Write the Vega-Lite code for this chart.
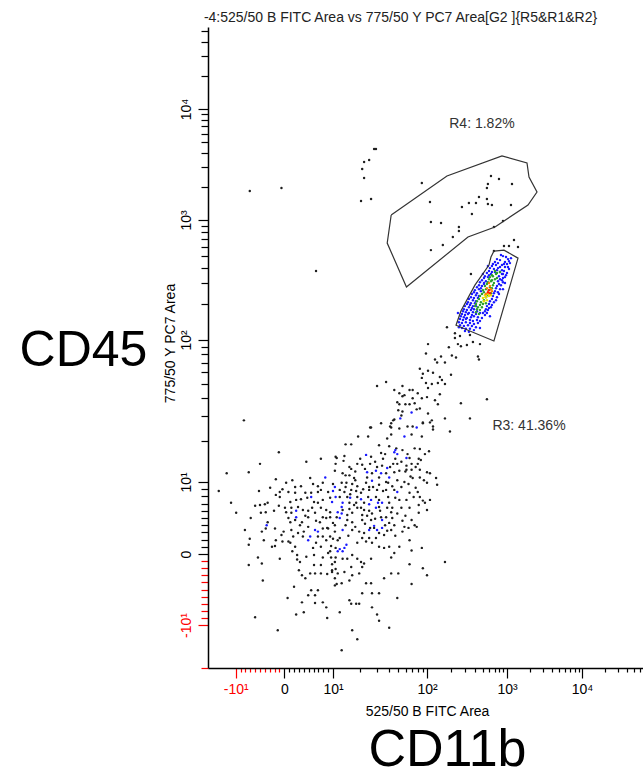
{
"$schema": "https://vega.github.io/schema/vega-lite/v6.json",
"width": 435, "height": 641,
"autosize": {"type": "none"},
"padding": {"left": 208, "top": 27, "right": 0, "bottom": 103},
"background": "white",
"title": {"text": "-4:525/50 B FITC Area vs 775/50 Y PC7 Area[G2 ]{R5&R1&R2}", "fontSize": 14, "fontWeight": "normal", "color": "#222", "anchor": "middle", "dx": -25, "offset": 2},
"config": {"font": "Liberation Sans", "view": {"stroke": null}, "axis": {"grid": false, "domainColor": "#000", "domainWidth": 1.5, "tickWidth": 1.2, "labelFontSize": 14, "titleFontWeight": "normal", "titleColor": "#000", "labelOverlap": false, "labelFlush": false, "labelBound": false}},
"datasets": {
"pts": [
{"x":-1.1,"y":16.5,"c":"k"},{"x":-5.0,"y":13.6,"c":"k"},{"x":4.5,"y":14.1,"c":"k"},{"x":7.5,"y":14.8,"c":"k"},{"x":10.7,"y":15.3,"c":"k"},{"x":-11.6,"y":11.6,"c":"k"},{"x":-7.3,"y":11.8,"c":"k"},{"x":-13.2,"y":8.75,"c":"k"},{"x":-5.2,"y":8.75,"c":"k"},{"x":-1.7,"y":10.5,"c":"k"},{"x":0.3,"y":9.9,"c":"k"},{"x":2.2,"y":9.3,"c":"k"},{"x":3.4,"y":9.4,"c":"k"},{"x":5.9,"y":9.7,"c":"k"},{"x":7.9,"y":9.9,"c":"k"},{"x":10.0,"y":9.7,"c":"k"},{"x":10.5,"y":12.1,"c":"k"},{"x":10.7,"y":13.6,"c":"k"},{"x":-0.3,"y":9.0,"c":"k"},{"x":0.8,"y":8.6,"c":"k"},{"x":2.2,"y":8.5,"c":"k"},{"x":4.3,"y":8.5,"c":"k"},{"x":5.5,"y":8.5,"c":"k"},{"x":6.9,"y":8.6,"c":"k"},{"x":7.5,"y":8.9,"c":"k"},{"x":-1.7,"y":8.2,"c":"k"},{"x":-0.9,"y":7.9,"c":"k"},{"x":1.2,"y":7.2,"c":"k"},{"x":2.4,"y":7.5,"c":"k"},{"x":3.4,"y":7.6,"c":"k"},{"x":4.7,"y":7.8,"c":"k"},{"x":6.1,"y":7.2,"c":"k"},{"x":6.9,"y":7.1,"c":"k"},{"x":7.9,"y":7.5,"c":"k"},{"x":9.4,"y":7.8,"c":"k"},{"x":-10.8,"y":7.1,"c":"k"},{"x":-6.0,"y":6.7,"c":"k"},{"x":-5.0,"y":6.8,"c":"k"},{"x":-4.0,"y":6.9,"c":"k"},{"x":-3.4,"y":7.1,"c":"k"},{"x":-1.1,"y":6.7,"c":"k"},{"x":0.1,"y":6.4,"c":"k"},{"x":1.4,"y":6.4,"c":"k"},{"x":2.8,"y":6.5,"c":"k"},{"x":3.8,"y":6.1,"c":"k"},{"x":4.9,"y":6.0,"c":"k"},{"x":7.5,"y":6.4,"c":"k"},{"x":8.6,"y":6.1,"c":"k"},{"x":-9.9,"y":5.7,"c":"k"},{"x":-6.9,"y":5.0,"c":"k"},{"x":-4.8,"y":5.7,"c":"k"},{"x":-2.1,"y":6.0,"c":"k"},{"x":0.3,"y":5.8,"c":"k"},{"x":1.4,"y":5.7,"c":"k"},{"x":4.3,"y":5.3,"c":"k"},{"x":6.3,"y":5.7,"c":"k"},{"x":7.9,"y":5.1,"c":"k"},{"x":9.4,"y":5.8,"c":"k"},{"x":-3.4,"y":4.4,"c":"k"},{"x":1.2,"y":4.4,"c":"k"},{"x":2.2,"y":4.7,"c":"k"},{"x":3.6,"y":4.4,"c":"k"},{"x":4.9,"y":5.1,"c":"k"},{"x":6.5,"y":4.6,"c":"k"},{"x":8.8,"y":3.6,"c":"k"},{"x":-8.1,"y":3.3,"c":"k"},{"x":-4.6,"y":3.1,"c":"k"},{"x":-3.8,"y":3.5,"c":"k"},{"x":-1.9,"y":3.5,"c":"k"},{"x":-0.1,"y":3.1,"c":"k"},{"x":1.4,"y":3.3,"c":"k"},{"x":2.8,"y":2.9,"c":"k"},{"x":4.9,"y":3.75,"c":"k"},{"x":7.9,"y":3.5,"c":"k"},{"x":9.0,"y":3.5,"c":"k"},{"x":10.5,"y":4.0,"c":"k"},{"x":-7.1,"y":2.1,"c":"k"},{"x":-1.7,"y":1.9,"c":"k"},{"x":-0.3,"y":1.7,"c":"k"},{"x":0.8,"y":1.7,"c":"k"},{"x":1.8,"y":2.4,"c":"k"},{"x":3.8,"y":2.4,"c":"k"},{"x":6.9,"y":2.4,"c":"k"},{"x":7.9,"y":2.4,"c":"k"},{"x":8.6,"y":1.9,"c":"k"},{"x":10.0,"y":2.1,"c":"k"},{"x":-7.3,"y":1.25,"c":"k"},{"x":-1.9,"y":1.1,"c":"k"},{"x":1.2,"y":1.5,"c":"k"},{"x":2.2,"y":1.0,"c":"k"},{"x":5.9,"y":0.8,"c":"k"},{"x":7.5,"y":1.0,"c":"k"},{"x":9.6,"y":1.1,"c":"k"},{"x":10.7,"y":0.8,"c":"k"},{"x":2.6,"y":-0.1,"c":"k"},{"x":4.5,"y":-0.3,"c":"k"},{"x":6.1,"y":-0.1,"c":"k"},{"x":7.9,"y":-0.4,"c":"k"},{"x":9.0,"y":0.1,"c":"k"},{"x":9.6,"y":-0.4,"c":"k"},{"x":10.7,"y":-0.4,"c":"k"},{"x":-5.4,"y":-0.4,"c":"k"},{"x":-0.9,"y":-0.6,"c":"k"},{"x":2.6,"y":-0.7,"c":"k"},{"x":-7.3,"y":-1.5,"c":"k"},{"x":-4.6,"y":-1.3,"c":"k"},{"x":6.1,"y":-1.5,"c":"k"},{"x":3.0,"y":-2.25,"c":"k"},{"x":3.6,"y":-3.0,"c":"k"},{"x":5.3,"y":-2.7,"c":"k"},{"x":6.3,"y":-2.7,"c":"k"},{"x":7.5,"y":-2.7,"c":"k"},{"x":8.8,"y":-2.8,"c":"k"},{"x":9.8,"y":-2.5,"c":"k"},{"x":10.7,"y":-2.1,"c":"k"},{"x":-4.4,"y":-3.7,"c":"k"},{"x":4.3,"y":-3.4,"c":"k"},{"x":10.5,"y":-4.4,"c":"k"},{"x":2.0,"y":-4.6,"c":"k"},{"x":5.5,"y":-5.1,"c":"k"},{"x":6.9,"y":-5.1,"c":"k"},{"x":4.9,"y":-5.8,"c":"k"},{"x":6.3,"y":-5.8,"c":"k"},{"x":0.6,"y":-6.2,"c":"k"},{"x":3.6,"y":-6.8,"c":"k"},{"x":6.3,"y":-6.9,"c":"k"},{"x":7.9,"y":-6.8,"c":"k"},{"x":8.6,"y":-7.5,"c":"k"},{"x":2.4,"y":-8.5,"c":"k"},{"x":4.0,"y":-8.2,"c":"k"},{"x":-6.0,"y":-8.9,"c":"k"},{"x":8.8,"y":-9.0,"c":"k"},{"x":-1.3,"y":-10.6,"c":"k"},{"x":-8.3,"y":27.8,"c":"k"},
{"x":-2.9,"y":9.2,"c":"k"},{"x":-0.9,"y":8.6,"c":"k"},{"x":1.6,"y":10.3,"c":"k"},{"x":5.3,"y":10.7,"c":"k"},{"x":6.9,"y":9.4,"c":"k"},{"x":9.0,"y":8.6,"c":"k"},{"x":-3.8,"y":5.8,"c":"k"},{"x":0.8,"y":5.0,"c":"k"},{"x":3.2,"y":4.0,"c":"k"},{"x":5.7,"y":6.4,"c":"k"},{"x":7.3,"y":4.4,"c":"k"},{"x":-0.5,"y":2.6,"c":"k"},{"x":4.0,"y":3.1,"c":"k"},{"x":8.6,"y":5.0,"c":"k"},{"x":1.6,"y":0.3,"c":"k"},{"x":6.5,"y":1.5,"c":"k"},{"x":-2.5,"y":1.0,"c":"k"},{"x":3.2,"y":-1.1,"c":"k"},{"x":7.5,"y":-1.5,"c":"k"},{"x":-4.2,"y":1.9,"c":"k"},
{"x":13.1,"y":14.3,"c":"k"},{"x":15.2,"y":12.9,"c":"k"},{"x":17.6,"y":11.95,"c":"k"},{"x":19.9,"y":14.8,"c":"k"},{"x":22.4,"y":12.5,"c":"k"},{"x":26.0,"y":15.3,"c":"k"},{"x":28.7,"y":14.1,"c":"k"},{"x":34.8,"y":14.8,"c":"k"},{"x":41.3,"y":12.9,"c":"k"},{"x":46.8,"y":14.8,"c":"k"},{"x":54.2,"y":14.1,"c":"k"},{"x":59.7,"y":11.95,"c":"k"},{"x":67.5,"y":11.0,"c":"k"},{"x":76.3,"y":12.9,"c":"k"},{"x":86.3,"y":14.5,"c":"k"},{"x":92.9,"y":10.3,"c":"k"},{"x":13.8,"y":9.3,"c":"k"},{"x":15.5,"y":8.3,"c":"k"},{"x":17.6,"y":10.3,"c":"k"},{"x":21.4,"y":9.0,"c":"k"},{"x":27.3,"y":9.3,"c":"k"},{"x":34.8,"y":8.75,"c":"k"},{"x":39.4,"y":9.9,"c":"k"},{"x":45.7,"y":8.9,"c":"k"},{"x":54.2,"y":9.3,"c":"k"},{"x":64.3,"y":9.7,"c":"k"},{"x":72.7,"y":7.9,"c":"k"},{"x":82.1,"y":5.7,"c":"k"},{"x":95.2,"y":7.1,"c":"k"},{"x":12.8,"y":6.1,"c":"k"},{"x":14.4,"y":5.4,"c":"k"},{"x":17.1,"y":6.8,"c":"k"},{"x":20.3,"y":6.4,"c":"k"},{"x":23.6,"y":5.3,"c":"k"},{"x":28.7,"y":4.9,"c":"k"},{"x":32.4,"y":6.0,"c":"k"},{"x":36.6,"y":4.0,"c":"k"},{"x":43.5,"y":6.4,"c":"k"},{"x":49.1,"y":5.6,"c":"k"},{"x":59.7,"y":5.3,"c":"k"},{"x":69.2,"y":4.7,"c":"k"},{"x":13.8,"y":4.0,"c":"k"},{"x":17.6,"y":3.75,"c":"k"},{"x":22.4,"y":4.2,"c":"k"},{"x":25.4,"y":3.6,"c":"k"},{"x":38.5,"y":3.2,"c":"k"},{"x":46.8,"y":2.5,"c":"k"},{"x":55.6,"y":3.1,"c":"k"},{"x":65.9,"y":1.9,"c":"k"},{"x":18.5,"y":1.5,"c":"k"},{"x":14.8,"y":2.5,"c":"k"},{"x":10.5,"y":3.1,"c":"k"},{"x":11.3,"y":1.9,"c":"k"},
{"x":26.0,"y":24.8,"c":"k"},{"x":33.2,"y":26.5,"c":"k"},{"x":42.4,"y":24.8,"c":"k"},{"x":51.6,"y":24.4,"c":"k"},{"x":62.8,"y":25.2,"c":"k"},{"x":71.0,"y":25.2,"c":"k"},{"x":90.6,"y":26.5,"c":"k"},{"x":109,"y":26.9,"c":"k"},{"x":119,"y":25.2,"c":"k"},{"x":194,"y":23.2,"c":"k"},{"x":69.2,"y":22.1,"c":"k"},{"x":88.4,"y":21.4,"c":"k"},{"x":42.4,"y":22.1,"c":"k"},{"x":38.5,"y":20.7,"c":"k"},{"x":18.9,"y":21.4,"c":"k"},{"x":24.2,"y":21.4,"c":"k"},{"x":13.8,"y":18.8,"c":"k"},{"x":15.9,"y":18.8,"c":"k"},{"x":31.6,"y":18.5,"c":"k"},{"x":40.4,"y":18.2,"c":"k"},{"x":47.9,"y":17.6,"c":"k"},{"x":55.6,"y":17.1,"c":"k"},{"x":62.8,"y":16.0,"c":"k"},{"x":74.5,"y":17.6,"c":"k"},{"x":84.3,"y":17.4,"c":"k"},{"x":95.2,"y":16.0,"c":"k"},{"x":106,"y":16.8,"c":"k"},{"x":33.2,"y":16.3,"c":"k"},{"x":36.6,"y":16.0,"c":"k"},{"x":13.4,"y":15.5,"c":"k"},{"x":11.0,"y":15.0,"c":"k"},{"x":65.9,"y":15.0,"c":"k"},{"x":82.1,"y":14.8,"c":"k"},{"x":18.5,"y":13.6,"c":"k"},{"x":20.9,"y":13.4,"c":"k"},{"x":25.4,"y":13.6,"c":"k"},{"x":30.1,"y":12.9,"c":"k"},{"x":34.0,"y":13.2,"c":"k"},{"x":44.5,"y":13.6,"c":"k"},{"x":49.1,"y":13.6,"c":"k"},{"x":61.2,"y":13.2,"c":"k"},{"x":69.2,"y":13.6,"c":"k"},{"x":80.2,"y":13.6,"c":"k"},{"x":15.9,"y":12.5,"c":"k"},{"x":26.6,"y":11.6,"c":"k"},{"x":37.5,"y":11.6,"c":"k"},{"x":45.7,"y":11.8,"c":"k"},{"x":51.6,"y":12.1,"c":"k"},{"x":61.2,"y":12.3,"c":"k"},{"x":69.2,"y":12.3,"c":"k"},{"x":84.3,"y":12.3,"c":"k"},{"x":100,"y":11.8,"c":"k"},{"x":109,"y":11.6,"c":"k"},{"x":13.8,"y":11.2,"c":"k"},{"x":15.2,"y":11.2,"c":"k"},{"x":12.8,"y":11.6,"c":"k"},{"x":17.1,"y":10.7,"c":"k"},{"x":23.6,"y":10.8,"c":"k"},{"x":31.6,"y":10.8,"c":"k"},{"x":37.5,"y":10.0,"c":"k"},{"x":49.1,"y":10.3,"c":"k"},{"x":58.3,"y":10.0,"c":"k"},{"x":71.0,"y":10.7,"c":"k"},{"x":84.3,"y":10.8,"c":"k"},{"x":130,"y":10.7,"c":"k"},{"x":100,"y":9.9,"c":"k"},{"x":134,"y":9.6,"c":"k"},{"x":12.5,"y":9.9,"c":"k"},{"x":14.1,"y":9.9,"c":"k"},{"x":16.3,"y":9.7,"c":"k"},{"x":18.5,"y":9.4,"c":"k"},{"x":23.0,"y":9.9,"c":"k"},{"x":24.8,"y":9.3,"c":"k"},{"x":31.6,"y":9.6,"c":"k"},{"x":43.5,"y":9.4,"c":"k"},{"x":30.1,"y":8.9,"c":"k"},{"x":11.9,"y":8.9,"c":"k"},{"x":13.4,"y":8.6,"c":"k"},{"x":15.9,"y":8.9,"c":"k"},{"x":18.0,"y":8.75,"c":"k"},{"x":20.3,"y":8.5,"c":"k"},{"x":24.8,"y":8.9,"c":"k"},{"x":37.5,"y":8.9,"c":"k"},{"x":65.9,"y":8.5,"c":"k"},{"x":76.3,"y":9.2,"c":"k"},{"x":80.2,"y":8.6,"c":"k"},{"x":11.9,"y":7.9,"c":"k"},{"x":14.4,"y":7.9,"c":"k"},{"x":18.5,"y":7.9,"c":"k"},{"x":24.2,"y":7.9,"c":"k"},{"x":29.3,"y":7.9,"c":"k"},{"x":31.6,"y":7.5,"c":"k"},{"x":39.4,"y":7.9,"c":"k"},{"x":46.8,"y":7.8,"c":"k"},{"x":51.6,"y":7.5,"c":"k"},{"x":61.2,"y":7.5,"c":"k"},{"x":84.3,"y":7.9,"c":"k"},{"x":90.6,"y":7.4,"c":"k"},{"x":109,"y":7.5,"c":"k"},{"x":15.2,"y":7.1,"c":"k"},{"x":18.0,"y":7.1,"c":"k"},{"x":21.9,"y":7.1,"c":"k"},{"x":40.4,"y":7.1,"c":"k"},{"x":54.2,"y":6.4,"c":"k"},{"x":65.9,"y":6.4,"c":"k"},{"x":82.1,"y":6.8,"c":"k"},{"x":100,"y":6.1,"c":"k"},{"x":15.2,"y":6.25,"c":"k"},{"x":18.5,"y":6.4,"c":"k"},{"x":21.9,"y":6.1,"c":"k"},{"x":24.8,"y":6.0,"c":"k"},{"x":31.6,"y":6.5,"c":"k"},{"x":38.5,"y":6.4,"c":"k"},{"x":42.4,"y":5.8,"c":"k"},{"x":16.3,"y":5.7,"c":"k"},{"x":20.9,"y":5.4,"c":"k"},{"x":26.6,"y":5.6,"c":"k"},{"x":33.2,"y":5.1,"c":"k"},{"x":37.5,"y":5.1,"c":"k"},{"x":43.5,"y":5.0,"c":"k"},{"x":55.6,"y":4.6,"c":"k"},{"x":9.4,"y":5.1,"c":"k"},{"x":11.0,"y":5.1,"c":"k"},{"x":10.0,"y":4.3,"c":"k"},{"x":14.4,"y":4.7,"c":"k"},{"x":16.3,"y":4.4,"c":"k"},{"x":20.9,"y":4.7,"c":"k"},{"x":26.0,"y":4.7,"c":"k"},{"x":40.4,"y":4.3,"c":"k"},{"x":45.7,"y":4.0,"c":"k"},{"x":58.3,"y":3.75,"c":"k"},{"x":64.3,"y":3.6,"c":"k"},{"x":74.5,"y":4.0,"c":"k"},{"x":78.2,"y":3.75,"c":"k"},{"x":16.3,"y":3.3,"c":"k"},{"x":19.4,"y":3.1,"c":"k"},{"x":21.9,"y":2.9,"c":"k"},{"x":28.0,"y":3.6,"c":"k"},{"x":31.6,"y":2.9,"c":"k"},{"x":35.7,"y":2.6,"c":"k"},{"x":42.4,"y":3.3,"c":"k"},{"x":9.4,"y":2.4,"c":"k"},{"x":11.9,"y":2.2,"c":"k"},{"x":20.9,"y":2.2,"c":"k"},{"x":24.8,"y":2.2,"c":"k"},{"x":29.3,"y":2.2,"c":"k"},{"x":23.0,"y":1.7,"c":"k"},{"x":26.6,"y":1.5,"c":"k"},{"x":31.6,"y":1.0,"c":"k"},{"x":35.7,"y":0.8,"c":"k"},{"x":40.4,"y":1.0,"c":"k"},{"x":51.6,"y":1.0,"c":"k"},{"x":9.4,"y":0.3,"c":"k"},{"x":16.3,"y":-0.1,"c":"k"},{"x":18.5,"y":-0.6,"c":"k"},{"x":20.3,"y":-1.1,"c":"k"},{"x":21.9,"y":-1.3,"c":"k"},{"x":26.0,"y":-0.6,"c":"k"},{"x":42.4,"y":-0.4,"c":"k"},{"x":45.7,"y":0.1,"c":"k"},{"x":69.2,"y":0.4,"c":"k"},{"x":88.4,"y":0.8,"c":"k"},{"x":14.4,"y":-0.6,"c":"k"},{"x":12.8,"y":-0.6,"c":"k"},{"x":10.5,"y":-1.1,"c":"k"},{"x":9.8,"y":-1.4,"c":"k"},{"x":15.9,"y":-1.8,"c":"k"},{"x":20.9,"y":-1.8,"c":"k"},{"x":65.9,"y":-1.4,"c":"k"},{"x":90.6,"y":-2.0,"c":"k"},{"x":168,"y":-1.1,"c":"k"},{"x":9.8,"y":-2.25,"c":"k"},{"x":11.3,"y":-2.7,"c":"k"},{"x":13.4,"y":-2.5,"c":"k"},{"x":16.3,"y":-3.0,"c":"k"},{"x":19.4,"y":-2.7,"c":"k"},{"x":42.4,"y":-2.7,"c":"k"},{"x":50.3,"y":-2.7,"c":"k"},{"x":100,"y":-3.0,"c":"k"},{"x":10.5,"y":-3.4,"c":"k"},{"x":12.5,"y":-4.1,"c":"k"},{"x":11.0,"y":-4.2,"c":"k"},{"x":15.2,"y":-3.7,"c":"k"},{"x":23.0,"y":-4.1,"c":"k"},{"x":26.0,"y":-4.1,"c":"k"},{"x":35.7,"y":-3.4,"c":"k"},{"x":69.2,"y":-4.2,"c":"k"},{"x":20.9,"y":-5.5,"c":"k"},{"x":26.6,"y":-5.5,"c":"k"},{"x":31.6,"y":-5.5,"c":"k"},{"x":49.1,"y":-6.2,"c":"k"},{"x":15.2,"y":-6.5,"c":"k"},{"x":15.9,"y":-7.0,"c":"k"},{"x":18.0,"y":-7.0,"c":"k"},{"x":19.4,"y":-7.0,"c":"k"},{"x":11.9,"y":-8.2,"c":"k"},{"x":26.6,"y":-7.5,"c":"k"},{"x":30.1,"y":-8.5,"c":"k"},{"x":31.6,"y":-9.4,"c":"k"},{"x":40.4,"y":-10.3,"c":"k"},{"x":16.3,"y":-10.6,"c":"k"},{"x":18.5,"y":-11.7,"c":"k"},{"x":12.5,"y":-13.2,"c":"k"},
{"x":178,"y":128,"c":"k"},{"x":224,"y":114,"c":"k"},{"x":259,"y":108,"c":"k"},{"x":224,"y":104,"c":"k"},{"x":244,"y":93.7,"c":"k"},{"x":266,"y":90.7,"c":"k"},{"x":316,"y":92.3,"c":"k"},{"x":376,"y":96.8,"c":"k"},{"x":460,"y":93.7,"c":"k"},{"x":345,"y":110,"c":"k"},{"x":103,"y":93.7,"c":"k"},{"x":188,"y":89.3,"c":"k"},{"x":97.6,"y":80.9,"c":"k"},{"x":150,"y":77.1,"c":"k"},{"x":126,"y":73.5,"c":"k"},{"x":134,"y":70.0,"c":"k"},{"x":205,"y":78.4,"c":"k"},{"x":231,"y":75.9,"c":"k"},{"x":168,"y":70.0,"c":"k"},{"x":434,"y":77.1,"c":"k"},{"x":447,"y":73.5,"c":"k"},{"x":84.3,"y":63.5,"c":"k"},{"x":90.6,"y":58.6,"c":"k"},{"x":103,"y":61.5,"c":"k"},{"x":119,"y":59.6,"c":"k"},{"x":88.4,"y":54.9,"c":"k"},{"x":145,"y":55.7,"c":"k"},{"x":200,"y":57.7,"c":"k"},{"x":97.6,"y":50.6,"c":"k"},{"x":115,"y":49.8,"c":"k"},{"x":137,"y":50.6,"c":"k"},{"x":154,"y":53.1,"c":"k"},{"x":168,"y":49.8,"c":"k"},{"x":37.5,"y":51.4,"c":"k"},{"x":30.1,"y":48.2,"c":"k"},{"x":55.6,"y":48.2,"c":"k"},{"x":45.7,"y":45.2,"c":"k"},{"x":51.6,"y":43.0,"c":"k"},{"x":65.9,"y":45.2,"c":"k"},{"x":71.0,"y":45.2,"c":"k"},{"x":80.2,"y":43.0,"c":"k"},{"x":103,"y":46.7,"c":"k"},{"x":145,"y":42.3,"c":"k"},{"x":55.6,"y":41.0,"c":"k"},{"x":71.0,"y":39.7,"c":"k"},{"x":88.4,"y":39.7,"c":"k"},{"x":100,"y":40.4,"c":"k"},{"x":126,"y":38.4,"c":"k"},{"x":562,"y":39.1,"c":"k"},{"x":266,"y":36.6,"c":"k"},{"x":65.9,"y":36.0,"c":"k"},{"x":51.6,"y":36.0,"c":"k"},{"x":59.7,"y":36.0,"c":"k"},{"x":74.5,"y":36.6,"c":"k"},{"x":137,"y":36.0,"c":"k"},{"x":78.2,"y":33.2,"c":"k"},{"x":84.3,"y":33.7,"c":"k"},{"x":50.3,"y":32.7,"c":"k"},{"x":55.6,"y":32.1,"c":"k"},{"x":103,"y":31.1,"c":"k"},{"x":168,"y":28.7,"c":"k"},{"x":345,"y":28.7,"c":"k"},{"x":45.7,"y":28.2,"c":"k"},{"x":42.4,"y":26.5,"c":"k"},{"x":90.6,"y":26.9,"c":"k"},{"x":115,"y":27.8,"c":"k"},{"x":119,"y":24.0,"c":"k"},{"x":58.3,"y":41.7,"c":"k"},{"x":49.1,"y":37.2,"c":"k"},{"x":54.2,"y":30.1,"c":"k"},{"x":44.5,"y":27.8,"c":"k"},{"x":25.4,"y":24.8,"c":"k"},{"x":41.3,"y":25.2,"c":"k"},
{"x":28.0,"y":4362,"c":"k"},{"x":29.3,"y":4362,"c":"k"},{"x":21.9,"y":3331,"c":"k"},{"x":24.8,"y":3467,"c":"k"},{"x":20.9,"y":2877,"c":"k"},{"x":21.9,"y":2390,"c":"k"},{"x":20.3,"y":1483,"c":"k"},{"x":26.0,"y":1546,"c":"k"},{"x":-7.1,"y":1824,"c":"k"},{"x":-0.5,"y":1941,"c":"k"},{"x":6.5,"y":376,"c":"k"},
{"x":88.4,"y":2154,"c":"k"},{"x":109,"y":1452,"c":"k"},{"x":112,"y":962,"c":"k"},{"x":150,"y":944,"c":"k"},{"x":112,"y":562,"c":"k"},{"x":158,"y":619,"c":"k"},{"x":211,"y":722,"c":"k"},{"x":251,"y":874,"c":"k"},{"x":251,"y":810,"c":"k"},{"x":274,"y":1310,"c":"k"},{"x":335,"y":1422,"c":"k"},{"x":365,"y":1132,"c":"k"},{"x":410,"y":1422,"c":"k"},{"x":447,"y":1611,"c":"k"},{"x":562,"y":1546,"c":"k"},{"x":578,"y":1393,"c":"k"},{"x":649,"y":1365,"c":"k"},{"x":1130,"y":1365,"c":"k"},{"x":562,"y":1941,"c":"k"},{"x":578,"y":2110,"c":"k"},{"x":631,"y":2490,"c":"k"},{"x":794,"y":2340,"c":"k"},{"x":1166,"y":2110,"c":"k"},{"x":687,"y":874,"c":"k"},{"x":891,"y":981,"c":"k"},{"x":1240,"y":681,"c":"k"},{"x":917,"y":607,"c":"k"},{"x":1063,"y":607,"c":"k"},{"x":1402,"y":596,"c":"k"},{"x":687,"y":552,"c":"k"},{"x":355,"y":355,"c":"k"},
{"x":8.4,"y":10.8,"c":"b"},{"x":10.0,"y":8.75,"c":"b"},{"x":5.5,"y":7.9,"c":"b"},{"x":10.7,"y":7.9,"c":"b"},{"x":9.8,"y":7.2,"c":"b"},{"x":2.4,"y":6.0,"c":"b"},{"x":-3.6,"y":4.0,"c":"b"},{"x":2.4,"y":5.1,"c":"b"},{"x":6.3,"y":3.3,"c":"b"},{"x":6.9,"y":3.1,"c":"b"},{"x":4.9,"y":1.9,"c":"b"},{"x":5.3,"y":2.4,"c":"b"},
{"x":78.2,"y":24.8,"c":"b"},{"x":58.3,"y":21.4,"c":"b"},{"x":45.7,"y":16.5,"c":"b"},{"x":49.1,"y":16.0,"c":"b"},{"x":23.0,"y":15.8,"c":"b"},{"x":61.2,"y":15.0,"c":"b"},{"x":38.5,"y":12.7,"c":"b"},{"x":23.6,"y":11.8,"c":"b"},{"x":29.3,"y":12.1,"c":"b"},{"x":33.2,"y":11.6,"c":"b"},{"x":26.6,"y":10.2,"c":"b"},{"x":40.4,"y":10.8,"c":"b"},{"x":10.5,"y":9.3,"c":"b"},{"x":49.1,"y":8.6,"c":"b"},{"x":15.5,"y":7.8,"c":"b"},{"x":20.3,"y":7.6,"c":"b"},{"x":26.0,"y":7.5,"c":"b"},{"x":12.8,"y":7.1,"c":"b"},{"x":24.8,"y":6.9,"c":"b"},{"x":30.8,"y":7.1,"c":"b"},{"x":34.0,"y":7.1,"c":"b"},{"x":12.5,"y":6.5,"c":"b"},{"x":29.3,"y":6.4,"c":"b"},{"x":11.3,"y":5.8,"c":"b"},{"x":12.5,"y":5.6,"c":"b"},{"x":34.0,"y":4.7,"c":"b"},{"x":11.9,"y":5.0,"c":"b"},{"x":28.0,"y":3.9,"c":"b"},{"x":30.1,"y":3.3,"c":"b"},{"x":34.0,"y":3.6,"c":"b"},{"x":12.8,"y":3.3,"c":"b"},{"x":24.8,"y":3.3,"c":"b"},{"x":11.9,"y":0.6,"c":"b"},{"x":12.8,"y":0.3,"c":"b"},{"x":14.1,"y":1.25,"c":"b"},{"x":13.4,"y":0.8,"c":"b"},{"x":11.3,"y":0.3,"c":"b"},{"x":69.2,"y":31.6,"c":"b"},{"x":52.8,"y":28.7,"c":"b"},{"x":46.8,"y":17.1,"c":"b"},
{"x":841,"y":511,"c":"b"},{"x":972,"y":492,"c":"b"},{"x":750,"y":473,"c":"b"},{"x":891,"y":501,"c":"b"},{"x":1031,"y":473,"c":"b"},{"x":708,"y":447,"c":"b"},{"x":818,"y":464,"c":"b"},{"x":944,"y":447,"c":"b"},{"x":1063,"y":455,"c":"b"},{"x":668,"y":430,"c":"b"},{"x":772,"y":438,"c":"b"},{"x":866,"y":422,"c":"b"},{"x":1000,"y":430,"c":"b"},{"x":1096,"y":438,"c":"b"},{"x":649,"y":414,"c":"b"},{"x":729,"y":422,"c":"b"},{"x":818,"y":406,"c":"b"},{"x":917,"y":430,"c":"b"},{"x":1031,"y":406,"c":"b"},{"x":613,"y":398,"c":"b"},{"x":687,"y":391,"c":"b"},{"x":772,"y":398,"c":"b"},{"x":866,"y":383,"c":"b"},{"x":944,"y":406,"c":"b"},{"x":1063,"y":391,"c":"b"},{"x":596,"y":376,"c":"b"},{"x":649,"y":369,"c":"b"},{"x":750,"y":383,"c":"b"},{"x":818,"y":369,"c":"b"},{"x":917,"y":376,"c":"b"},{"x":1000,"y":362,"c":"b"},{"x":562,"y":362,"c":"b"},{"x":631,"y":355,"c":"b"},{"x":708,"y":369,"c":"b"},{"x":891,"y":355,"c":"b"},{"x":972,"y":348,"c":"b"},{"x":531,"y":341,"c":"b"},{"x":596,"y":348,"c":"b"},{"x":794,"y":341,"c":"b"},{"x":866,"y":355,"c":"b"},{"x":944,"y":335,"c":"b"},{"x":516,"y":329,"c":"b"},{"x":578,"y":335,"c":"b"},{"x":818,"y":322,"c":"b"},{"x":891,"y":329,"c":"b"},{"x":487,"y":316,"c":"b"},{"x":546,"y":310,"c":"b"},{"x":772,"y":310,"c":"b"},{"x":866,"y":316,"c":"b"},{"x":460,"y":304,"c":"b"},{"x":516,"y":299,"c":"b"},{"x":794,"y":293,"c":"b"},{"x":891,"y":304,"c":"b"},{"x":447,"y":287,"c":"b"},{"x":487,"y":282,"c":"b"},{"x":750,"y":282,"c":"b"},{"x":841,"y":287,"c":"b"},{"x":422,"y":276,"c":"b"},{"x":473,"y":271,"c":"b"},{"x":516,"y":293,"c":"b"},{"x":729,"y":271,"c":"b"},{"x":818,"y":266,"c":"b"},{"x":398,"y":261,"c":"b"},{"x":447,"y":266,"c":"b"},{"x":708,"y":256,"c":"b"},{"x":772,"y":251,"c":"b"},{"x":387,"y":251,"c":"b"},{"x":422,"y":246,"c":"b"},{"x":473,"y":256,"c":"b"},{"x":687,"y":246,"c":"b"},{"x":794,"y":242,"c":"b"},{"x":365,"y":242,"c":"b"},{"x":410,"y":237,"c":"b"},{"x":447,"y":233,"c":"b"},{"x":668,"y":233,"c":"b"},{"x":750,"y":228,"c":"b"},{"x":355,"y":228,"c":"b"},{"x":387,"y":224,"c":"b"},{"x":434,"y":224,"c":"b"},{"x":649,"y":220,"c":"b"},{"x":729,"y":215,"c":"b"},{"x":335,"y":220,"c":"b"},{"x":376,"y":215,"c":"b"},{"x":410,"y":211,"c":"b"},{"x":613,"y":211,"c":"b"},{"x":687,"y":207,"c":"b"},{"x":326,"y":207,"c":"b"},{"x":355,"y":203,"c":"b"},{"x":398,"y":203,"c":"b"},{"x":596,"y":200,"c":"b"},{"x":649,"y":196,"c":"b"},{"x":316,"y":200,"c":"b"},{"x":345,"y":196,"c":"b"},{"x":376,"y":192,"c":"b"},{"x":562,"y":192,"c":"b"},{"x":631,"y":188,"c":"b"},{"x":299,"y":192,"c":"b"},{"x":335,"y":188,"c":"b"},{"x":365,"y":185,"c":"b"},{"x":410,"y":192,"c":"b"},{"x":546,"y":181,"c":"b"},{"x":596,"y":185,"c":"b"},{"x":290,"y":181,"c":"b"},{"x":316,"y":178,"c":"b"},{"x":355,"y":178,"c":"b"},{"x":387,"y":181,"c":"b"},{"x":531,"y":174,"c":"b"},{"x":578,"y":178,"c":"b"},{"x":282,"y":174,"c":"b"},{"x":307,"y":171,"c":"b"},{"x":335,"y":168,"c":"b"},{"x":376,"y":171,"c":"b"},{"x":422,"y":174,"c":"b"},{"x":501,"y":168,"c":"b"},{"x":562,"y":168,"c":"b"},{"x":274,"y":165,"c":"b"},{"x":299,"y":162,"c":"b"},{"x":326,"y":165,"c":"b"},{"x":365,"y":162,"c":"b"},{"x":410,"y":165,"c":"b"},{"x":460,"y":168,"c":"b"},{"x":531,"y":162,"c":"b"},{"x":266,"y":158,"c":"b"},{"x":290,"y":155,"c":"b"},{"x":316,"y":153,"c":"b"},{"x":355,"y":155,"c":"b"},{"x":387,"y":158,"c":"b"},{"x":434,"y":155,"c":"b"},{"x":487,"y":153,"c":"b"},{"x":259,"y":150,"c":"b"},{"x":282,"y":147,"c":"b"},{"x":307,"y":150,"c":"b"},{"x":345,"y":147,"c":"b"},{"x":376,"y":144,"c":"b"},{"x":422,"y":147,"c":"b"},{"x":460,"y":144,"c":"b"},{"x":251,"y":141,"c":"b"},{"x":274,"y":139,"c":"b"},{"x":307,"y":141,"c":"b"},{"x":345,"y":139,"c":"b"},{"x":387,"y":136,"c":"b"},{"x":434,"y":139,"c":"b"},{"x":259,"y":133,"c":"b"},{"x":290,"y":131,"c":"b"},{"x":326,"y":133,"c":"b"},{"x":365,"y":131,"c":"b"},{"x":410,"y":128,"c":"b"},{"x":274,"y":126,"c":"b"},{"x":307,"y":124,"c":"b"},{"x":345,"y":124,"c":"b"},{"x":387,"y":121,"c":"b"},{"x":299,"y":119,"c":"b"},{"x":335,"y":117,"c":"b"},{"x":1130,"y":482,"c":"b"},{"x":578,"y":414,"c":"b"},{"x":501,"y":355,"c":"b"},{"x":944,"y":299,"c":"b"},{"x":891,"y":266,"c":"b"},{"x":244,"y":168,"c":"b"},{"x":460,"y":126,"c":"b"},{"x":613,"y":158,"c":"b"},{"x":251,"y":128,"c":"b"},
{"x":708,"y":376,"c":"g"},{"x":750,"y":362,"c":"g"},{"x":818,"y":369,"c":"g"},{"x":649,"y":348,"c":"g"},{"x":729,"y":355,"c":"g"},{"x":613,"y":335,"c":"g"},{"x":668,"y":341,"c":"g"},{"x":750,"y":329,"c":"g"},{"x":596,"y":322,"c":"g"},{"x":649,"y":316,"c":"g"},{"x":708,"y":322,"c":"g"},{"x":578,"y":304,"c":"g"},{"x":631,"y":310,"c":"g"},{"x":687,"y":299,"c":"g"},{"x":562,"y":293,"c":"g"},{"x":668,"y":287,"c":"g"},{"x":531,"y":282,"c":"g"},{"x":613,"y":276,"c":"g"},{"x":546,"y":266,"c":"g"},{"x":649,"y":271,"c":"g"},{"x":501,"y":261,"c":"g"},{"x":596,"y":261,"c":"g"},{"x":516,"y":251,"c":"g"},{"x":631,"y":246,"c":"g"},{"x":487,"y":242,"c":"g"},{"x":578,"y":237,"c":"g"},{"x":460,"y":233,"c":"g"},{"x":546,"y":228,"c":"g"},{"x":447,"y":220,"c":"g"},{"x":516,"y":215,"c":"g"},{"x":422,"y":211,"c":"g"},{"x":473,"y":207,"c":"g"},{"x":546,"y":203,"c":"g"},{"x":410,"y":200,"c":"g"},{"x":460,"y":196,"c":"g"},{"x":501,"y":200,"c":"g"},{"x":398,"y":192,"c":"g"},{"x":434,"y":188,"c":"g"},{"x":487,"y":188,"c":"g"},{"x":422,"y":181,"c":"g"},{"x":460,"y":178,"c":"g"},{"x":410,"y":171,"c":"g"},{"x":447,"y":165,"c":"g"},
{"x":501,"y":224,"c":"y"},{"x":546,"y":228,"c":"y"},{"x":596,"y":233,"c":"y"},{"x":516,"y":211,"c":"y"},{"x":562,"y":215,"c":"y"},{"x":531,"y":237,"c":"y"},{"x":631,"y":237,"c":"y"},{"x":578,"y":242,"c":"y"},
{"x":562,"y":271,"c":"o"},{"x":631,"y":266,"c":"o"},{"x":546,"y":242,"c":"o"},{"x":613,"y":282,"c":"o"},{"x":649,"y":256,"c":"o"},{"x":596,"y":299,"c":"o"},
{"x":578,"y":251,"c":"r"},{"x":613,"y":246,"c":"r"},{"x":596,"y":261,"c":"r"}
],
"gates": [
{"g":"R4","i":0,"x":42.4,"y":1109},{"g":"R4","i":1,"x":178,"y":2490},{"g":"R4","i":2,"x":866,"y":3774},{"g":"R4","i":3,"x":1848,"y":3265},{"g":"R4","i":4,"x":1965,"y":2438},{"g":"R4","i":5,"x":2512,"y":1787},{"g":"R4","i":6,"x":1905,"y":1365},{"g":"R4","i":7,"x":708,"y":874},{"g":"R4","i":8,"x":326,"y":722},{"g":"R4","i":9,"x":61.2,"y":277},{"g":"R4","i":10,"x":38.5,"y":643},{"g":"R4","i":11,"x":42.4,"y":1109},
{"g":"R3","i":0,"x":687,"y":552},{"g":"R3","i":1,"x":917,"y":562},{"g":"R3","i":2,"x":1402,"y":482},{"g":"R3","i":3,"x":687,"y":98.4},{"g":"R3","i":4,"x":231,"y":133},{"g":"R3","i":5,"x":266,"y":175},{"g":"R3","i":6,"x":398,"y":287},{"g":"R3","i":7,"x":596,"y":422},{"g":"R3","i":8,"x":631,"y":492},{"g":"R3","i":9,"x":687,"y":552}
],
"labels": [
{"t":"R4: 1.82%","x":487,"y":7328},
{"t":"R3: 41.36%","x":1965,"y":25.2}
]
},
"layer": [
{
"data": {"name": "pts"},
"mark": {"type": "circle", "size": 6, "opacity": 1},
"encoding": {
"x": {"field": "x", "type": "quantitative",
"scale": {"type": "symlog", "nice": false, "zero": false,
"domain": [-15.7,-10,-9,-8,-7,-6,-5,-4,-3,-2,-1,0,1,2,3,4,5,6,7,8,9,10,100,1000,10000,65000],
"range": [0,27.7,32.56,37.42,42.28,47.14,52.0,56.86,61.72,66.58,71.44,76.3,81.17,86.04,90.91,95.78,100.65,105.52,110.39,115.26,120.13,125,219,299,374,435]},
"axis": {
"values": [-10,-9,-8,-7,-6,-5,-4,-3,-2,-1,0,1,2,3,4,5,6,7,8,9,10,20,30,40,50,60,70,80,90,100,200,300,400,500,600,700,800,900,1000,2000,3000,4000,5000,6000,7000,8000,9000,10000,20000,30000,40000,50000,60000],
"labelExpr": "datum.value == 0 ? '0' : datum.value == 10 ? '10¹' : datum.value == 100 ? '10²' : datum.value == 1000 ? '10³' : datum.value == 10000 ? '10⁴' : datum.value == -10 ? '-10¹' : ''",
"tickSize": {"condition": {"test": "datum.value == 0 || abs(datum.value) == 10 || datum.value == 100 || datum.value == 1000 || datum.value == 10000", "value": 10}, "value": 4},
"tickColor": {"condition": {"test": "datum.value < 0", "value": "#ff0000"}, "value": "#000"},
"labelColor": {"condition": {"test": "datum.value < 0", "value": "#ff0000"}, "value": "#000"},
"labelPadding": 4,
"title": "525/50 B FITC Area", "titleFontSize": 14, "titleX": 219, "titleY": 43, "titleBaseline": "middle", "titleAlign": "center"}},
"y": {"field": "y", "type": "quantitative",
"scale": {"type": "symlog", "nice": false, "zero": false,
"domain": [-16,-10,-9,-8,-7,-6,-5,-4,-3,-2,-1,0,1,2,3,4,5,6,7,8,9,10,100,1000,10000,54800],
"range": [641,598,590.9,583.8,576.7,569.6,562.5,555.4,548.3,541.2,534.1,527,519.8,512.6,505.4,498.2,491,483.8,476.6,469.4,462.2,455,313,193,82,0]},
"axis": {
"values": [-16,-10,-9,-8,-7,-6,-5,-4,-3,-2,-1,0,1,2,3,4,5,6,7,8,9,10,20,30,40,50,60,70,80,90,100,200,300,400,500,600,700,800,900,1000,2000,3000,4000,5000,6000,7000,8000,9000,10000,20000,30000,40000,50000],
"labelExpr": "datum.value == 0 ? '0' : datum.value == 10 ? '10¹' : datum.value == 100 ? '10²' : datum.value == 1000 ? '10³' : datum.value == 10000 ? '10⁴' : datum.value == -10 ? '-10¹' : ''",
"tickSize": {"condition": {"test": "datum.value == 0 || abs(datum.value) == 10 || datum.value == 100 || datum.value == 1000 || datum.value == 10000", "value": 10}, "value": 7},
"tickColor": {"condition": {"test": "datum.value < 0", "value": "#ff0000"}, "value": "#000"},
"labelColor": {"condition": {"test": "datum.value < 0", "value": "#ff0000"}, "value": "#000"},
"labelAngle": -90, "labelAlign": "center", "labelBaseline": "bottom", "labelPadding": 5,
"title": "775/50 Y PC7 Area", "titleFontSize": 14, "titleAngle": -90, "titleX": -38, "titleY": 316, "titleBaseline": "middle", "titleAlign": "center"}},
"color": {"field": "c", "type": "nominal", "scale": {"domain": ["k","b","g","y","o","r"], "range": ["#1e1e1e","#1a1aff","#2ca02c","#e8e000","#ff8000","#ff1a00"]}, "legend": null}
}
},
{
"data": {"name": "gates"},
"mark": {"type": "line", "stroke": "#333", "strokeWidth": 1.2},
"encoding": {
"x": {"field": "x", "type": "quantitative", "axis": {"orient": "bottom", "title": "CD11b", "titleFontSize": 52, "titleX": 239, "titleY": 97, "titleBaseline": "alphabetic", "titleAlign": "center", "labels": false, "ticks": false, "domain": false}},
"y": {"field": "y", "type": "quantitative", "axis": {"orient": "left", "title": "CD45", "titleFontSize": 50, "titleAngle": 0, "titleX": -125, "titleY": 323, "titleBaseline": "middle", "titleAlign": "center", "labels": false, "ticks": false, "domain": false}},
"detail": {"field": "g"},
"order": {"field": "i", "type": "quantitative"}
}
},
{
"data": {"name": "labels"},
"mark": {"type": "text", "fontSize": 14, "color": "#333", "align": "center"},
"encoding": {
"x": {"field": "x", "type": "quantitative", "axis": null},
"y": {"field": "y", "type": "quantitative", "axis": null},
"text": {"field": "t"}
}
}
],
"resolve": {"axis": {"x": "independent", "y": "independent"}}
}
